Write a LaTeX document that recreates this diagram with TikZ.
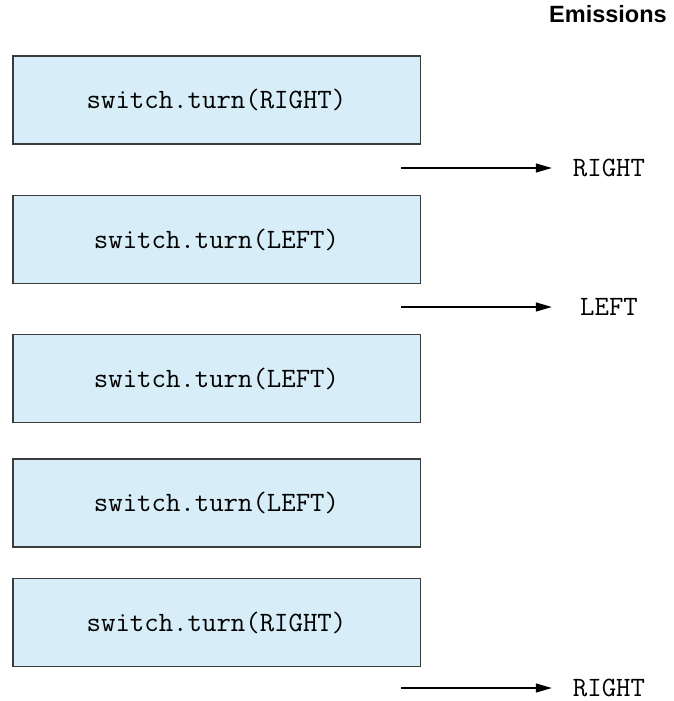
\documentclass[tikz,border=0pt]{standalone}
\usepackage{fontspec}
\newfontfamily\headfont{Liberation Sans}
\usetikzlibrary{arrows.meta}
\definecolor{boxfill}{RGB}{215,237,248}
\definecolor{boxline}{RGB}{60,60,60}

\begin{document}
\begin{tikzpicture}[x=1pt,y=-1pt,
  call/.style={draw=boxline, fill=boxfill, line width=1.5pt, minimum width=407.5pt, minimum height=88pt, inner sep=0pt, font=\fontsize{28}{30}\selectfont\ttfamily},
  emitted/.style={minimum width=80pt, inner sep=0pt, font=\fontsize{28}{30}\selectfont\ttfamily},
  emit/.style={-{Triangle[length=16pt,width=9pt]}, line width=1.3pt, shorten >=17pt}]
\useasboundingbox (0,0) rectangle (673,701);
\node[font=\headfont\bfseries\fontsize{23.5}{26}\selectfont] (head) at (608,14.5) {Emissions};
\node[call] (c1) at (216.5,100) {switch.turn(RIGHT)};
\node[call] (c2) at (216.5,239.5) {switch.turn(LEFT)};
\node[call] (c3) at (216.5,378.5) {switch.turn(LEFT)};
\node[call] (c4) at (216.5,503) {switch.turn(LEFT)};
\node[call] (c5) at (216.5,622.5) {switch.turn(RIGHT)};
\coordinate (s1) at (401,168);
\coordinate (s2) at (401,307);
\coordinate (s5) at (401,688);
\node[emitted] (e1) at (609,168) {RIGHT};
\node[emitted] (e2) at (609,307) {LEFT};
\node[emitted] (e5) at (609,688) {RIGHT};
\draw[emit] (s1) -- (e1);
\draw[emit] (s2) -- (e2);
\draw[emit] (s5) -- (e5);
\end{tikzpicture}
\end{document}
